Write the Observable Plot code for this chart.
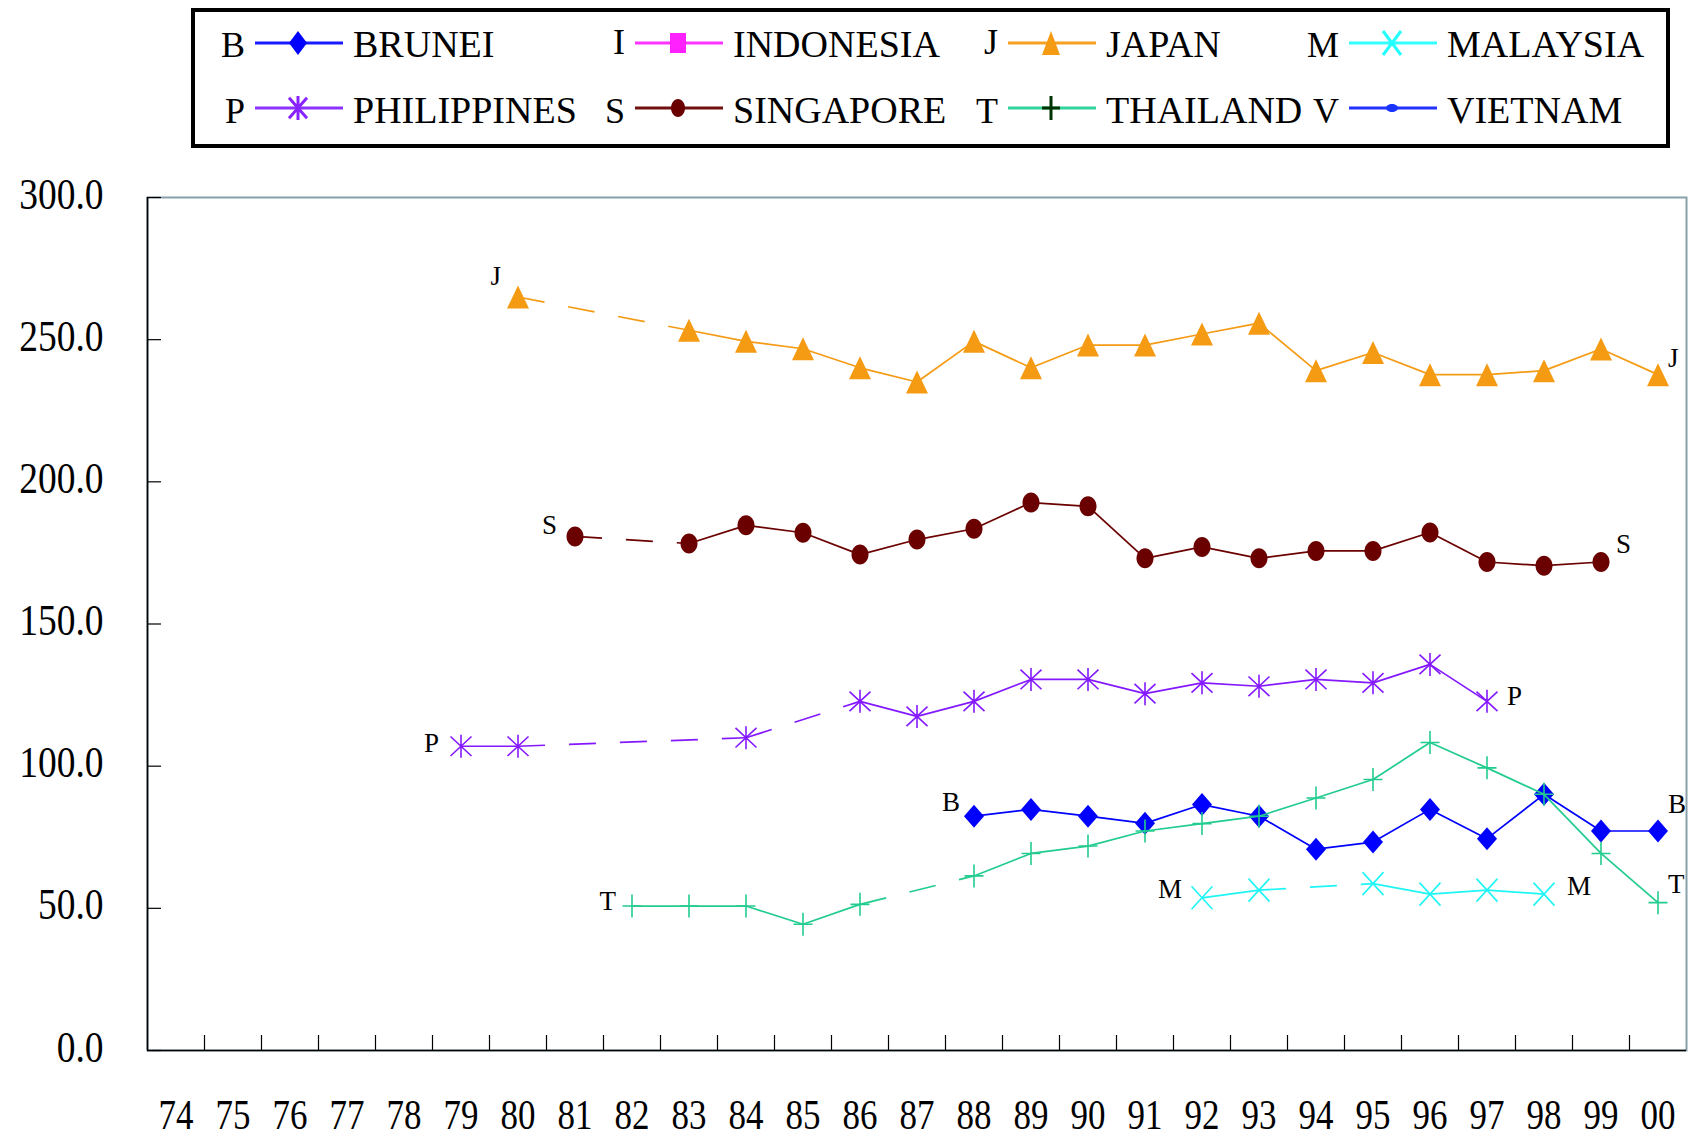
<!DOCTYPE html>
<html>
<head>
<meta charset="utf-8">
<script src="https://cdn.jsdelivr.net/npm/d3@7"></script>
<script src="https://cdn.jsdelivr.net/npm/@observablehq/plot@0.6"></script>
<style>
  html, body { margin: 0; padding: 0; background: #fff; }
  svg { display: block; }
</style>
</head>
<body>
<div id="legend"></div>
<div id="chart"></div>
<script>
// ---------------- DATA ----------------
const years = ["74","75","76","77","78","79","80","81","82","83","84","85","86","87","88","89","90","91","92","93","94","95","96","97","98","99","00"];
const yTicks = [0, 50, 100, 150, 200, 250, 300];

//                 74    75    76    77    78    79     80     81     82    83     84     85     86     87     88     89     90     91     92     93     94     95     96     97     98     99     00
const brunei     = [null, null, null, null, null, null,  null,  null,  null, null,  null,  null,  null,  null,  82.4,  84.8,  82.4,  79.9,  86.5,  82.4,  70.8,  73.3,  84.8,  74.5,  90.1,  77.2,  77.2];
const indonesia  = [null, null, null, null, null, null,  null,  null,  null, null,  null,  null,  null,  null,  null,  null,  null,  null,  null,  null,  null,  null,  null,  null,  null,  null,  null];
const japan      = [null, null, null, null, null, null,  265.0, null,  null, 253.3, 249.4, 246.8, 240.1, 235.1, 249.4, 240.1, 248.1, 248.1, 252.0, 255.8, 239.1, 245.5, 237.7, 237.7, 239.1, 246.7, 237.7];
const malaysia   = [null, null, null, null, null, null,  null,  null,  null, null,  null,  null,  null,  null,  null,  null,  null,  null,  53.7,  56.4,  null,  58.7,  55.0,  56.4,  55.0,  null,  null];
const philippines= [null, null, null, null, null, 107.0, 107.0, null,  null, null,  110.0, null,  122.8, 117.5, 122.8, 130.5, 130.5, 125.5, 129.3, 128.1, 130.5, 129.3, 135.8, 122.8, null,  null,  null];
const singapore  = [null, null, null, null, null, null,  null,  180.8, null, 178.3, 184.7, 182.1, 174.4, 179.7, 183.5, 192.7, 191.4, 173.1, 177.1, 173.1, 175.7, 175.7, 182.2, 171.8, 170.5, 171.8, null];
const thailand   = [null, null, null, null, null, null,  null,  null,  50.8, 50.8,  50.8,  44.4,  51.4,  null,  61.4,  69.3,  71.9,  77.2,  79.8,  82.4,  88.8,  95.3,  108.3, 99.4,  90.1,  69.3,  52.0];
const vietnam    = [null, null, null, null, null, null,  null,  null,  null, null,  null,  null,  null,  null,  null,  null,  null,  null,  null,  null,  null,  null,  null,  null,  null,  null,  null];

const seriesNames   = ["BRUNEI", "INDONESIA", "JAPAN", "MALAYSIA", "PHILIPPINES", "SINGAPORE", "THAILAND", "VIETNAM"];
const seriesLetters = ["B", "I", "J", "M", "P", "S", "T", "V"];
const seriesValues  = [brunei, indonesia, japan, malaysia, philippines, singapore, thailand, vietnam];

// ---------------- STYLE ----------------
const FONT = "'Liberation Serif', 'Times New Roman', Times, serif";
const W = 1689, H = 1137, LEGEND_H = 155;
const plotH = H - LEGEND_H;
const M = {top: 42, right: 3, bottom: 87, left: 147};
const bw = (W - M.left - M.right) / years.length;

function sym(kind, w, h) {
  return {
    draw(ctx) {
      const k = 0.5523;
      switch (kind) {
        case "diamond":
          ctx.moveTo(0, -h); ctx.lineTo(w, 0); ctx.lineTo(0, h); ctx.lineTo(-w, 0); ctx.closePath(); break;
        case "triangle":
          ctx.moveTo(0, -h); ctx.lineTo(w, h); ctx.lineTo(-w, h); ctx.closePath(); break;
        case "square":
          ctx.moveTo(-w, -h); ctx.lineTo(w, -h); ctx.lineTo(w, h); ctx.lineTo(-w, h); ctx.closePath(); break;
        case "ellipse":
          ctx.moveTo(w, 0);
          ctx.bezierCurveTo(w, k * h, k * w, h, 0, h);
          ctx.bezierCurveTo(-k * w, h, -w, k * h, -w, 0);
          ctx.bezierCurveTo(-w, -k * h, -k * w, -h, 0, -h);
          ctx.bezierCurveTo(k * w, -h, w, -k * h, w, 0);
          ctx.closePath(); break;
        case "times":
          ctx.moveTo(-w, -h); ctx.lineTo(w, h); ctx.moveTo(w, -h); ctx.lineTo(-w, h); break;
        case "plus":
          ctx.moveTo(-w, 0); ctx.lineTo(w, 0); ctx.moveTo(0, -h); ctx.lineTo(0, h); break;
        case "asterisk":
          ctx.moveTo(0, -h); ctx.lineTo(0, h);
          ctx.moveTo(-w, -h * 0.85); ctx.lineTo(w, h * 0.85);
          ctx.moveTo(w, -h * 0.85); ctx.lineTo(-w, h * 0.85); break;
      }
    }
  };
}

const styles = [
  {color: "#0000ff", symbol: sym("diamond", 10, 11.5), filled: true,  legendSymbol: sym("diamond", 9, 12), legendColor: "#0000ff", lineColor: "#1a1aff", start: [-14, -14], end: [10, -27]},
  {color: "#ff00ff", symbol: sym("square", 8, 9),      filled: true,  legendSymbol: sym("square", 8, 10), legendColor: "#ff22ff", lineColor: "#ff33ff", start: [-14, -12], end: [10, -12]},
  {color: "#f59b13", symbol: sym("triangle", 11, 11.5), filled: true, legendSymbol: sym("triangle", 9, 12), legendColor: "#f59b13", lineColor: "#f5a020", start: [-17, -21], end: [10, -16]},
  {color: "#1ff5f5", symbol: sym("times", 10.5, 11.5), filled: false, legendSymbol: sym("times", 9, 12), legendColor: "#22ffff", lineColor: "#33ffff", start: [-20, -8], end: [23, -8]},
  {color: "#8419ff", symbol: sym("asterisk", 10.5, 11.5), filled: false, legendSymbol: sym("asterisk", 9, 12), legendColor: "#8822ff", lineColor: "#8c33ff", start: [-22, -3], end: [20, -5]},
  {color: "#6b0000", symbol: sym("ellipse", 8.5, 10),  filled: true,  legendSymbol: sym("ellipse", 7, 9), legendColor: "#6b0000", lineColor: "#701010", start: [-18, -11], end: [15, -18]},
  {color: "#22cc8e", symbol: sym("plus", 9.5, 11.5),   filled: false, legendSymbol: sym("plus", 9, 12), legendColor: "#003300", lineColor: "#33d49b", start: [-16, -5], end: [10, -18]},
  {color: "#1a33ff", symbol: sym("ellipse", 6, 3.5),   filled: true,  legendSymbol: sym("ellipse", 6, 4), legendColor: "#1a33ff", lineColor: "#2233ff", start: [-14, -12], end: [10, -12]}
];

// ---------------- BUILD MARKS ----------------
const marks = [];
marks.push(Plot.frame({stroke: "#86a1a9", strokeWidth: 2}));
marks.push(Plot.axisX({ticks: years.slice(1), tickSize: -15, tickFormat: () => "", dx: -bw / 2, stroke: "black", strokeWidth: 1.2, label: null}));
marks.push(Plot.axisX({tickSize: 0, tickPadding: 49, fontSize: 35, fill: "black", label: null}));
marks.push(Plot.axisY({ticks: yTicks, tickSize: -14, tickFormat: () => "", stroke: "black", strokeWidth: 1.2, label: null}));
marks.push(Plot.axisY({ticks: yTicks, tickSize: 0, tickPadding: 44, tickFormat: d => d.toFixed(1), fontSize: 37.5, dy: -3, fill: "black", label: null}));
marks.push(Plot.ruleX([years[0]], {dx: -bw / 2, stroke: "black", strokeWidth: 1.6}));
marks.push(Plot.ruleY([0], {stroke: "black", strokeWidth: 1.6}));

seriesValues.forEach((vals, si) => {
  const st = styles[si];
  const pts = years.map((y, i) => ({year: y, idx: i, value: vals[i]})).filter(d => d.value != null);
  if (!pts.length) return;
  const segs = [];
  for (let k = 1; k < pts.length; k++) {
    const a = pts[k - 1], b = pts[k];
    segs.push({x1: a.year, y1: a.value, x2: b.year, y2: b.value, dashed: b.idx - a.idx > 1});
  }
  const lineOpts = {x1: "x1", y1: "y1", x2: "x2", y2: "y2", stroke: st.color, strokeWidth: 1.7};
  marks.push(Plot.link(segs.filter(d => !d.dashed), lineOpts));
  marks.push(Plot.link(segs.filter(d => d.dashed), {...lineOpts, strokeDasharray: "27,24"}));
  marks.push(Plot.dot(pts, {
    x: "year", y: "value", r: 10, symbol: st.symbol,
    fill: st.filled ? st.color : "none",
    stroke: st.filled ? "none" : st.color,
    strokeWidth: st.filled ? 0 : 1.6
  }));
  const first = pts[0], last = pts[pts.length - 1];
  marks.push(Plot.text([first], {x: "year", y: "value", text: () => seriesLetters[si], textAnchor: "end",
    dx: st.start[0], dy: st.start[1], fontSize: 27, fill: "black"}));
  marks.push(Plot.text([last], {x: "year", y: "value", text: () => seriesLetters[si], textAnchor: "start",
    dx: st.end[0], dy: st.end[1], fontSize: 27, fill: "black"}));
});

const chart = Plot.plot({
  width: W,
  height: plotH,
  marginTop: M.top, marginRight: M.right, marginBottom: M.bottom, marginLeft: M.left,
  style: {fontFamily: FONT, background: "white", color: "black"},
  x: {type: "band", domain: years, padding: 0, label: null},
  y: {domain: [0, 300], label: null},
  marks
});

// stretch axis labels vertically like the reference
chart.querySelectorAll('g[aria-label="x-axis tick label"] text, g[aria-label="y-axis tick label"] text').forEach(t => {
  const tr = t.getAttribute("transform") || "";
  t.setAttribute("transform", tr + " scale(1,1.18)");
});
document.getElementById("chart").appendChild(chart);

// ---------------- LEGEND ----------------
const L = d3.select("#legend").append("svg").attr("width", W).attr("height", LEGEND_H)
  .style("font-family", FONT);
L.append("rect").attr("x", 193).attr("y", 10).attr("width", 1475).attr("height", 136)
  .attr("fill", "white").attr("stroke", "black").attr("stroke-width", 4);
const colStarts = [255, 635, 1008, 1349];
const rowLineY = [43, 108];
const rowBase = [57, 123];
seriesNames.forEach((name, si) => {
  const st = styles[si];
  const row = Math.floor(si / 4), col = si % 4;
  const x0 = colStarts[col];
  L.append("text").attr("x", x0 - 10).attr("y", rowBase[row] - (si === 1 || si === 2 ? 3 : 0))
    .attr("text-anchor", "end").attr("font-size", 36).text(seriesLetters[si]);
  L.append("line").attr("x1", x0).attr("x2", x0 + 88).attr("y1", rowLineY[row]).attr("y2", rowLineY[row])
    .attr("stroke", st.lineColor).attr("stroke-width", 3.2);
  const path = d3.symbol().type(st.legendSymbol)();
  L.append("path").attr("d", path)
    .attr("transform", `translate(${x0 + 43},${rowLineY[row]})`)
    .attr("fill", st.filled ? st.legendColor : "none")
    .attr("stroke", st.filled ? "none" : st.legendColor)
    .attr("stroke-width", st.filled ? 0 : 3);
  L.append("text").attr("x", x0 + 98).attr("y", rowBase[row]).attr("font-size", 38).text(name);
});
</script>
</body>
</html>
